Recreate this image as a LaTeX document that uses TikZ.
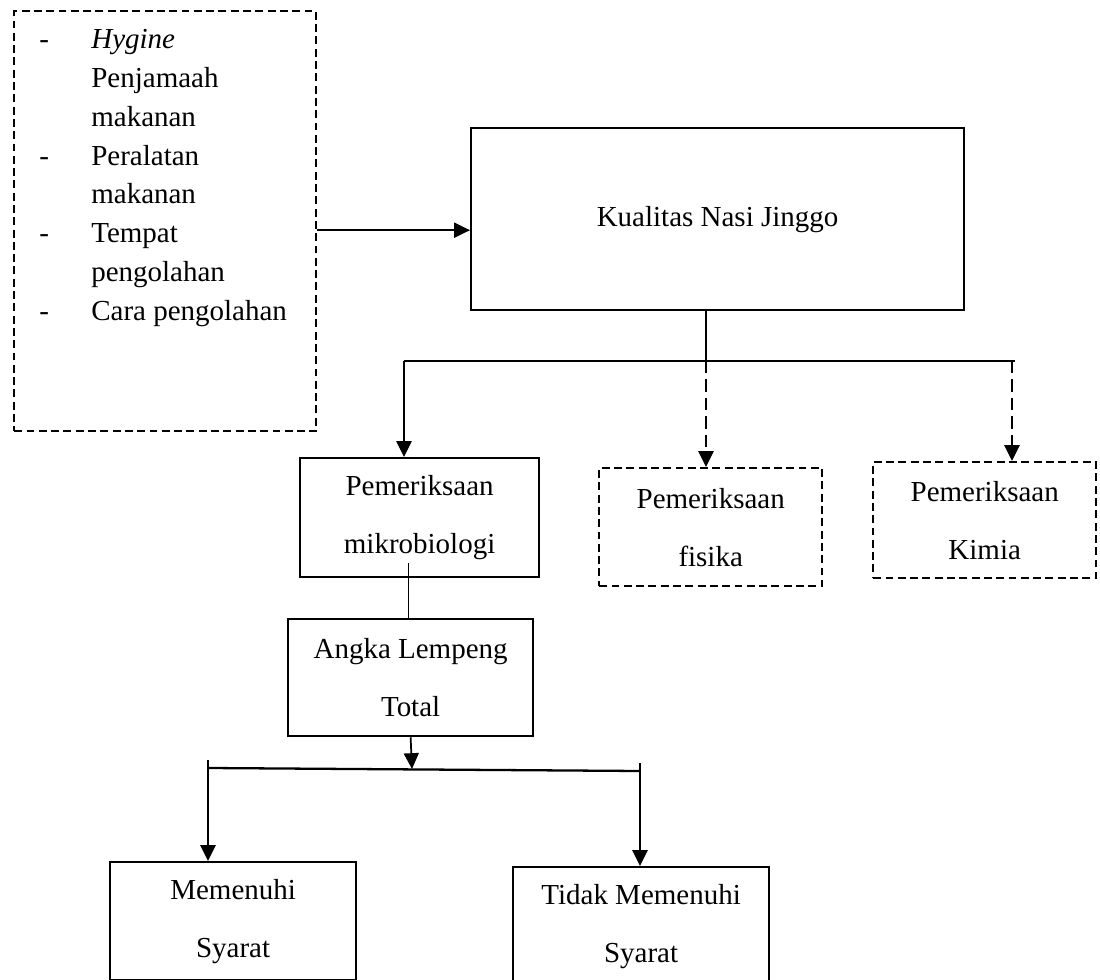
\documentclass[tikz,border=0pt]{standalone}
\usepackage{fontspec}
\setmainfont{Liberation Serif}
\usepackage{tikz}
\usetikzlibrary{positioning,calc,arrows.meta}

\newcommand{\boxfont}{\fontsize{16.5}{33}\selectfont}
\newcommand{\listfont}{\fontsize{16.5}{22.1}\selectfont}

\tikzset{
	kotak/.style={rectangle, draw, line width=1.3pt, anchor=north west, align=center, inner sep=0pt, font=\boxfont},
	putus/.style={kotak, line width=1.4pt, dash pattern=on 4.5pt off 2.5pt},
	panah/.style={line width=1.3pt, -{Triangle[length=9pt,width=8.5pt]}},
	panahputus/.style={panah, line width=1.5pt, dash pattern=on 7pt off 3.5pt},
}

\begin{document}
\begin{tikzpicture}[x=0.02cm, y=-0.02cm]
		\useasboundingbox (0,0) rectangle (1100,980);
		\clip (0,0) rectangle (1100,980);
		% faktor yang mempengaruhi
		\node[putus, minimum width=6.04cm, minimum height=8.4cm] (faktor) at (13,10) {};
		\node[anchor=north west, inner sep=0pt, font=\listfont] (daftar) at (39,21) {\begin{tabular}{@{}p{1.04cm}@{}l@{}}
			- & \textit{Hygine}\\ & Penjamaah\\ & makanan\\
			- & Peralatan\\ & makanan\\
			- & Tempat\\ & pengolahan\\
			- & Cara pengolahan
		\end{tabular}};
		\node[kotak, minimum width=9.86cm, minimum height=3.64cm] (kualitas) at (470,127) {Kualitas Nasi Jinggo};
		\coordinate (keluar) at ($(faktor.east)+(0,9)$);
		\draw[panah] (keluar)--(keluar -| kualitas.west);
		% pemeriksaan
		\node[kotak, minimum width=4.78cm, minimum height=2.38cm] (mikro) at (299,457) {Pemeriksaan\\mikrobiologi};
		\node[putus, minimum width=4.46cm, minimum height=2.36cm] (fisika) at (598,467) {Pemeriksaan\\fisika};
		\node[putus, minimum width=4.46cm, minimum height=2.32cm] (kimia) at (872,461) {Pemeriksaan\\Kimia};
		\coordinate (cabang) at (706,361);
		\coordinate (kiri) at (404,361);
		\coordinate (kanan) at (1012,361);
		\draw[line width=0.7pt] (cabang |- kualitas.south)--(cabang);
		\draw[line width=1.3pt] (kiri)--($(kanan)+(3,0)$);
		\draw[panah] (kiri)--(kiri |- mikro.north);
		\draw[panahputus] (cabang)--(cabang |- fisika.north);
		\draw[panahputus] (kanan)--(kanan |- kimia.north);
		% angka lempeng total
		\node[kotak, minimum width=4.9cm, minimum height=2.34cm] (alt) at (287,618) {Angka Lempeng\\Total};
		\coordinate (sambung) at ($(alt.north |- mikro.south)+(-2,-15)$);
		\draw[line width=1pt] (sambung)--(sambung |- alt.north);
		% hasil
		\node[kotak, minimum width=4.92cm, minimum height=2.36cm] (memenuhi) at (109,861) {Memenuhi\\Syarat};
		\node[kotak, minimum width=5.12cm, minimum height=2.36cm] (tidak) at (512,866) {Tidak Memenuhi\\Syarat};
		\coordinate (turun) at (412,769);
		\coordinate (bkiri) at (208,768);
		\coordinate (bkanan) at (640,771);
		\draw[line width=1.3pt] (bkiri)--(bkanan);
		\draw[panah, line width=1pt] (alt.south)--(turun);
		\draw[panah] ($(bkiri)+(0,-8)$)--(bkiri |- memenuhi.north);
		\draw[panah] ($(bkanan)+(0,-8)$)--(bkanan |- tidak.north);
	\end{tikzpicture}
\end{document}
